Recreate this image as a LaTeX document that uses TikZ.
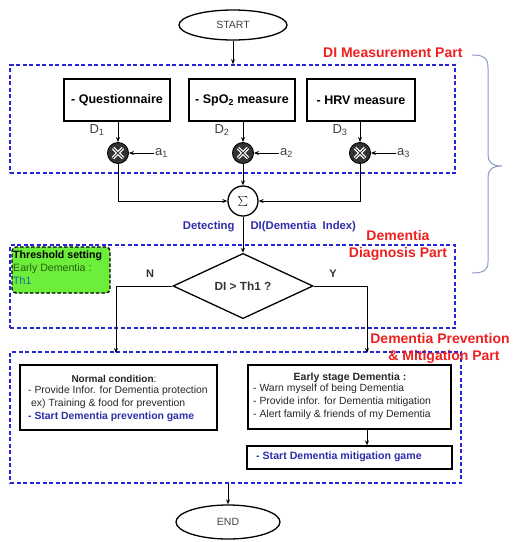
\documentclass[tikz,border=0pt]{standalone}
\usepackage{fontspec}
\setmainfont{Liberation Sans}
\usetikzlibrary{shapes.geometric,arrows.meta}
\definecolor{dblue}{HTML}{2424D8}
\definecolor{lblred}{HTML}{EE2020}
\definecolor{txtblue}{HTML}{2E2EA8}
\definecolor{thgreen}{HTML}{6CEE3A}
\definecolor{bracec}{HTML}{8C9CC0}
\tikzset{
  arr/.style={-{Stealth[length=5pt,width=4pt]}, line width=0.8pt},
  ln/.style={line width=0.8pt},
  partbox/.style={draw=dblue, line width=1.6pt, dash pattern=on 4pt off 2.5pt},
  procbox/.style={draw, line width=1.3pt, rectangle, inner sep=0pt},
  partlbl/.style={text=lblred, font=\fontsize{14}{17}\selectfont\bfseries, align=center},
  term/.style={ellipse, draw, line width=1.3pt, inner sep=0pt, font=\fontsize{10.5}{12}\selectfont, text=black!75},
  mult/.style={circle, draw, line width=0.9pt, fill=black!80, minimum size=21pt, inner sep=0pt,
    path picture={
      \draw[white, line width=3.2pt] ([shift={(-5,-5)}]path picture bounding box.center) -- ([shift={(5,5)}]path picture bounding box.center);
      \draw[white, line width=3.2pt] ([shift={(-5,5)}]path picture bounding box.center) -- ([shift={(5,-5)}]path picture bounding box.center);
      \draw[black!80, line width=0.8pt] ([shift={(-5,-5)}]path picture bounding box.center) -- ([shift={(5,5)}]path picture bounding box.center);
      \draw[black!80, line width=0.8pt] ([shift={(-5,5)}]path picture bounding box.center) -- ([shift={(5,-5)}]path picture bounding box.center);
    }},
  btxt/.style={font=\fontsize{12.5}{14}\selectfont\bfseries},
  small/.style={font=\fontsize{10.4}{12.7}\selectfont, align=left, inner sep=0pt},
}
\begin{document}
\begin{tikzpicture}[x=1pt, y=-1pt]
\useasboundingbox (0,0) rectangle (517,542);

% terminals
\node[term, minimum width=108pt, minimum height=30pt] (start) at (233,25) {START};
\node[term, minimum width=104pt, minimum height=34pt] (end) at (228,522) {END};

% part boxes
\node[partbox, rectangle, minimum width=445pt, minimum height=108pt, inner sep=0pt] (meas) at (232.5,119) {};
\node[partbox, rectangle, minimum width=445pt, minimum height=83pt, inner sep=0pt] (diag) at (232.5,286.5) {};
\node[partbox, rectangle, minimum width=451pt, minimum height=131pt, inner sep=0pt] (pm) at (235.5,417.5) {};

% part labels
\node[partlbl, anchor=east] (lblmeas) at (466,53) {DI Measurement Part};
\node[partlbl] (lbldiag) at (398,245) {Dementia\\Diagnosis Part};
\node[partlbl] (lblpm) at (440,348) {Dementia Prevention\\\hspace*{8pt}\& Mitigation Part};

% brace
\draw[bracec, line width=1pt] (472,55) .. controls (484,55) and (488,58) .. (488,68) -- (488,155)
  .. controls (488,162) and (492,166) .. (502,166) .. controls (492,166) and (488,170) .. (488,177)
  -- (488,262) .. controls (488,270) and (484,273) .. (472,273);

% measurement boxes
\node[procbox, btxt, minimum width=106pt, minimum height=42pt] (q) at (117,100) {- Questionnaire};
\node[procbox, btxt, minimum width=106pt, minimum height=42pt] (sp) at (242,100) {- SpO\textsubscript{2} measure};
\node[procbox, btxt, minimum width=108pt, minimum height=42pt] (hrv) at (361,100) {- HRV measure};

% multipliers
\node[mult] (m1) at (118,153) {};
\node[mult] (m2) at (243,153) {};
\node[mult] (m3) at (360,153) {};

\node[font=\fontsize{13}{15}\selectfont, text=black!75] (d1) at (97,130) {D\textsubscript{1}};
\node[font=\fontsize{13}{15}\selectfont, text=black!75] (d2) at (222,130) {D\textsubscript{2}};
\node[font=\fontsize{13}{15}\selectfont, text=black!75] (d3) at (340,130) {D\textsubscript{3}};

\node[font=\fontsize{13}{15}\selectfont, text=black!75, anchor=west, inner sep=1pt] (a1) at (154,153) {a\textsubscript{1}};
\node[font=\fontsize{13}{15}\selectfont, text=black!75, anchor=west, inner sep=1pt] (a2) at (279,153) {a\textsubscript{2}};
\node[font=\fontsize{13}{15}\selectfont, text=black!75, anchor=west, inner sep=1pt] (a3) at (396,153) {a\textsubscript{3}};

% sum
\node[circle, draw, line width=1.3pt, minimum size=30pt, inner sep=0pt, font=\fontsize{14}{16}\selectfont] (sum) at (243,201) {$\sum$};

% detecting label
\node[font=\fontsize{11.3}{13}\selectfont\bfseries, text=txtblue, anchor=east] (det) at (238,227) {Detecting};
\node[font=\fontsize{11.3}{13}\selectfont\bfseries, text=txtblue, anchor=west] (dii) at (247,227) {DI(Dementia\ \ Index)};

% threshold
\node[draw, line width=1.3pt, dash pattern=on 3.5pt off 2pt, fill=thgreen, rounded corners=4pt,
      minimum width=98pt, minimum height=46pt, inner sep=0pt] (th) at (61,270) {};
\node[anchor=north west, align=left, inner sep=0pt, font=\fontsize{10.6}{13}\selectfont] (thtxt) at (13,251)
  {\textbf{Threshold setting}\\\textcolor[HTML]{2A5E0C}{Early Dementia :}\\\textcolor[HTML]{1E64A8}{Th1}};

% diamond
\node[diamond, draw, line width=1.3pt, minimum width=140pt, minimum height=58pt, inner sep=0pt,
      font=\fontsize{11.8}{14}\selectfont\bfseries, text=black!80] (dec) at (243,286) {DI > Th1 ?};
\node[font=\fontsize{11}{13}\selectfont\bfseries, text=black!80] (nlbl) at (150,274) {N};
\node[font=\fontsize{11}{13}\selectfont\bfseries, text=black!80] (ylbl) at (333,274) {Y};

% result boxes
\node[procbox, minimum width=197pt, minimum height=65pt] (nbox) at (118.5,397.5) {};
\node[procbox, minimum width=203pt, minimum height=64pt] (ebox) at (349.5,397) {};
\node[procbox, minimum width=205pt, minimum height=23pt] (gbox) at (349.5,457.5) {};

\node[font=\fontsize{10}{12}\selectfont, text=black!85] (nhead) at (114,379) {\textbf{Normal condition}:};
\node[small, anchor=north west, text=black!85] (ntxt) at (28,386)
  {- Provide Infor. for Dementia protection\\\hspace*{3pt}ex) Training \& food for prevention\\\textcolor{txtblue}{\bfseries - Start Dementia prevention game}};

\node[font=\fontsize{10.5}{12}\selectfont\bfseries, text=black!85] (ehead) at (350,378) {Early stage Dementia :};
\node[small, anchor=north west, text=black!85] (etxt) at (253,384)
  {- Warn myself of being Dementia\\- Provide infor. for Dementia mitigation\\- Alert family \& friends of my Dementia};

\node[anchor=west, inner sep=0pt, text=txtblue, font=\fontsize{10.6}{12}\selectfont\bfseries] (gtxt) at (256,457) {- Start Dementia mitigation game};

% connectors
\coordinate (nc) at (116,353);
\coordinate (yc) at (367,353);
\draw[arr] (start) -- (start.south |- meas.north);
\draw[arr] (q.south -| m1) -- (m1);
\draw[arr] (sp.south -| m2) -- (m2);
\draw[arr] (hrv.south -| m3) -- (m3);
\draw[arr] (a1.west) -- (m1);
\draw[arr] (a2.west) -- (m2);
\draw[arr] (a3.west) -- (m3);
\draw[arr] (m1) |- (sum);
\draw[arr] (m3) |- (sum);
\draw[arr] (m2) -- (sum);
\draw[arr] (sum) -- (dec);
\draw[arr] (dec.west) -| (nc);
\draw[arr] (dec.east) -| (yc);
\draw[arr] (ebox.south -| yc) -- (gbox.north -| yc);
\draw[arr] (pm.south -| end) -- (end);
\end{tikzpicture}
\end{document}
